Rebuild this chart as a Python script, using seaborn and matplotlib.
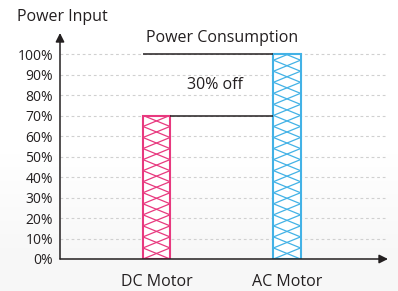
import numpy as np
import matplotlib
matplotlib.use("Agg")
import matplotlib.pyplot as plt
from matplotlib.collections import LineCollection
import seaborn as sns

# data
categories = ["DC Motor", "AC Motor"]
power_input = [70, 100]
bar_colors = ["#e8397f", "#43b2e6"]
y_ticks = [0, 10, 20, 30, 40, 50, 60, 70, 80, 90, 100]
y_tick_labels = [f"{t}%" for t in y_ticks]
saving_label = "30% off"

sns.set_style("white")
plt.rcParams["font.family"] = ["Open Sans", "DejaVu Sans"]
ink = "#231f20"

fig = plt.figure(figsize=(3.98, 2.91), dpi=100)

# soft background gradient (white at top, light grey at bottom)
bg = fig.add_axes([0, 0, 1, 1], zorder=-10)
grad = np.ones((291, 1))
rows = np.arange(291)
grad[rows > 140, 0] = 1 - 0.035 * np.clip((rows[rows > 140] - 140) / 120, 0, 1)
bg.imshow(grad, cmap="gray", vmin=0, vmax=1, aspect="auto", extent=[0, 1, 0, 1])
bg.axis("off")

ax = fig.add_axes([60 / 398, 32 / 291, 328 / 398, 226 / 291])
ax.patch.set_alpha(0)

bw = 0.207
sns.barplot(x=categories, y=power_input, hue=categories, palette=bar_colors,
            width=bw, legend=False, ax=ax, zorder=3)
ax.set_xlim(-96.5 / 130.5, (328 - 96.5) / 130.5)
ax.set_ylim(0, 110.5)

# stretched cross-hatch: one X per period spanning the full bar width
period = 5.4
for patch, c in zip(ax.patches, bar_colors):
    patch.set_facecolor("white")
    patch.set_edgecolor(c)
    patch.set_linewidth(1.5)
    x0, x1 = patch.get_x(), patch.get_x() + patch.get_width()
    top = patch.get_height()
    segs = []
    for y in np.arange(-period, top + period, period):
        segs.append([(x0, y), (x1, y + period)])
        segs.append([(x0, y + period), (x1, y)])
    lc = LineCollection(segs, colors=c, linewidths=0.9, zorder=3.5)
    ax.add_collection(lc)
    lc.set_clip_path(patch)

# reference lines joining the bars
ax.hlines(power_input[1], 0 - bw / 2, 1 - bw / 2, color=ink, lw=1.1, zorder=4)
ax.hlines(power_input[0], 0 + bw / 2, 1 - bw / 2, color=ink, lw=1.1, zorder=4)
ax.text(0.45, 85, saving_label, ha="center", va="center", fontsize=11.5, color=ink)

ax.set_yticks(y_ticks)
ax.set_yticklabels(y_tick_labels, fontsize=10, color=ink)
ax.tick_params(axis="y", length=0, pad=5)
ax.tick_params(axis="x", length=0, pad=11, labelsize=11.5, labelcolor=ink)
ax.set_xlabel("")
ax.set_ylabel("")
ax.yaxis.grid(True, linestyle=(0, (2.5, 2.5)), color="#d0d0d0", lw=0.8)
ax.set_axisbelow(True)
for s in ax.spines.values():
    s.set_visible(False)

# arrow axes
ax.annotate("", xy=(0, 1.0), xytext=(0, 0), xycoords="axes fraction",
            arrowprops=dict(arrowstyle="-|>", color=ink, lw=1.1,
                            mutation_scale=13, shrinkA=0, shrinkB=0), zorder=5)
ax.annotate("", xy=(1.0, 0), xytext=(0, 0), xycoords="axes fraction",
            arrowprops=dict(arrowstyle="-|>", color=ink, lw=1.1,
                            mutation_scale=13, shrinkA=0, shrinkB=0), zorder=5)

fig.text(17 / 398, 1 - 17 / 291, "Power Input", ha="left", va="center",
         fontsize=11.5, color=ink)
fig.text(222 / 398, 1 - 38 / 291, "Power Consumption", ha="center", va="center",
         fontsize=11.5, color=ink)

fig.savefig("out.png", dpi=100)
